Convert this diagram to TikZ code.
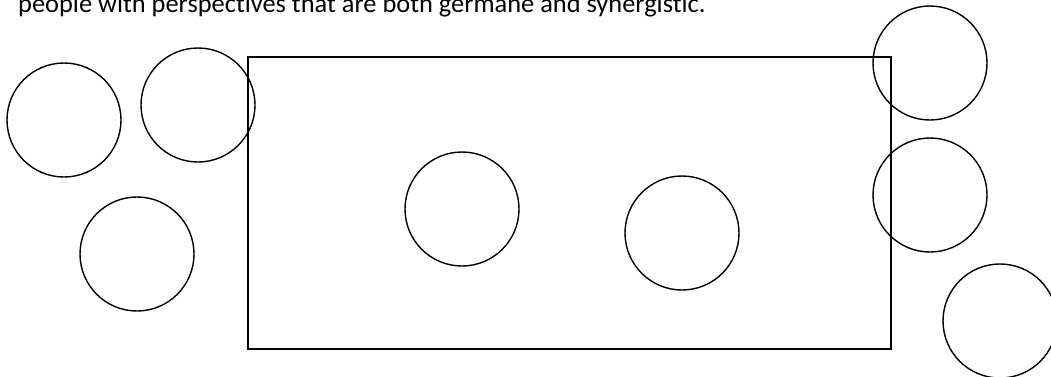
\documentclass[tikz,border=0pt]{standalone}
\usepackage{fontspec}
\setmainfont{Carlito}[Ligatures=NoCommon]
\begin{document}
\begin{tikzpicture}[x=1pt,y=-1pt,
  ring/.style={draw,circle,minimum size=114pt,inner sep=0pt,line width=1.4pt},
  frame/.style={draw,line width=1.8pt}]
\useasboundingbox (0,0) rectangle (1051,376);
\node[anchor=base west,inner sep=0pt,font=\fontsize{26.4pt}{30pt}\selectfont] (t) at (18,12.5) {people with perspectives that are both germane and synergistic.};
\coordinate (r1) at (248,57);
\coordinate (r2) at (891,349);
\draw[frame] (r1) rectangle (r2);
\node[ring] (c1) at (64,120) {};
\node[ring] (c2) at (198,105) {};
\node[ring] (c3) at (137,254) {};
\node[ring] (c4) at (462,209) {};
\node[ring] (c5) at (682,233) {};
\node[ring] (c6) at (930,63) {};
\node[ring] (c7) at (930,195) {};
\node[ring] (c8) at (1000,321) {};
\end{tikzpicture}
\end{document}
